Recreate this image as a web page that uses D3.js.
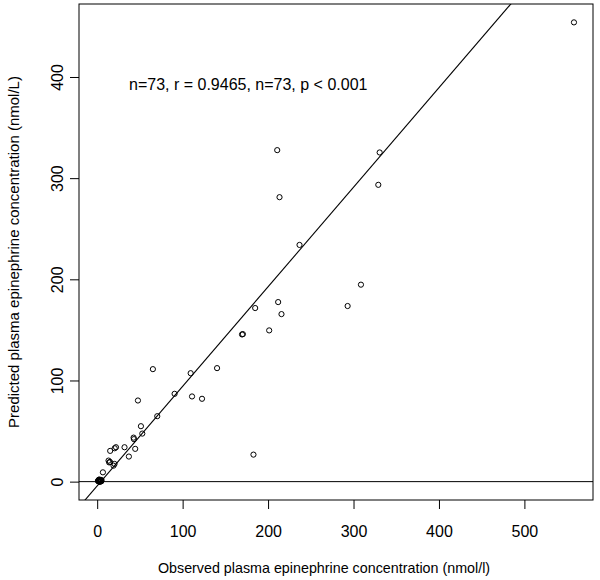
<!DOCTYPE html>
<html>
<head>
<meta charset="utf-8">
<script src="https://cdn.jsdelivr.net/npm/d3@7"></script>
<style>
  body { margin: 0; background: #fff; }
  svg { display: block; }
  text { font-family: "Liberation Sans", Arial, Helvetica, sans-serif; fill: #000; }
</style>
</head>
<body>
<svg id="chart" width="600" height="580"></svg>
<script>
// observed vs predicted plasma epinephrine (nmol/l)
const observed = [558, 330.6, 329, 210.7, 213.4, 236.8, 308.7, 293.1, 184.9, 211.8,
  215.7, 201.3, 169.5, 170.5, 65.2, 109.4, 140.3, 47.7, 90.6, 111,
  122.7, 70.3, 51.2, 52.8, 42.6, 43, 182.9, 44.5, 37.1, 32,
  20.5, 22, 15.2, 13.3, 15, 14, 20.3, 19.1, 6.7,
  1.4, 3.6, 1.8, 4.6, 2.9, 3.1, 2.5, 4.1, 1.2, 4.0,
  2.7, 3.3, 2.2, 4.8, 2.0, 5.1, 3.0, 2.4, 3.9, 1.9,
  3.5, 2.8, 4.4, 2.3, 3.2, 1.0, 3.7, 2.6, 4.3, 3.0,
  2.0, 3.4, 2.9, 3.8];
const predicted = [454, 325.4, 293.4, 327.7, 281.2, 234, 194.7, 173.6, 171.6, 177.5,
  165.6, 149.5, 145.5, 145.8, 111.2, 107.2, 112.2, 80.2, 86.8, 84.2,
  81.9, 64.7, 54.8, 47.5, 43.5, 42, 26.7, 32.4, 24.8, 34,
  33, 34, 30.4, 20.8, 19.5, 19, 17.5, 15.8, 9.2,
  0.4, 0.9, 1.8, 0.3, 0.7, 1.5, 0.0, 1.1, 0.6, 0.8,
  2.1, 0.5, 1.0, 0.4, 0.9, 1.6, 1.4, 0.3, 0.7, 1.1,
  0.2, 0.8, 1.2, 0.5, 1.0, 0.9, 0.3, 1.3, 0.7, 0.4,
  0.6, 1.1, 0.2, 0.8];
const xTicks = [0, 100, 200, 300, 400, 500];
const yTicks = [0, 100, 200, 300, 400];
const fitSlope = 0.984;
const fitIntercept = -4.2;
const note = "n=73, r = 0.9465, n=73, p < 0.001";
const xTitle = "Observed plasma epinephrine concentration (nmol/l)";
const yTitle = "Predicted plasma epinephrine concentration (nmol/L)";

const svg = d3.select('#chart');
const boxL = 79, boxR = 593, boxT = 4, boxB = 500;

// R style: data range stretched by 4%
function padded(v) {
  const [a, b] = d3.extent(v);
  const p = (b - a) * 0.04;
  return [a - p, b + p];
}
const x = d3.scaleLinear().domain(padded(observed)).range([boxL, boxR]);
const y = d3.scaleLinear().domain(padded(predicted)).range([boxB, boxT]);

svg.append('defs').append('clipPath').attr('id', 'box')
  .append('rect').attr('x', boxL).attr('y', boxT)
  .attr('width', boxR - boxL).attr('height', boxB - boxT);

const plot = svg.append('g').attr('clip-path', 'url(#box)');

// horizontal zero line
plot.append('line')
  .attr('x1', boxL).attr('x2', boxR)
  .attr('y1', y(0)).attr('y2', y(0))
  .attr('stroke', '#000').attr('stroke-width', 1);

// fitted line
const [x0, x1] = x.domain();
plot.append('line')
  .attr('x1', x(x0)).attr('y1', y(fitIntercept + fitSlope * x0))
  .attr('x2', x(x1)).attr('y2', y(fitIntercept + fitSlope * x1))
  .attr('stroke', '#000').attr('stroke-width', 1.1);

plot.selectAll('circle')
  .data(observed.map((d, i) => [d, predicted[i]]))
  .enter().append('circle')
  .attr('cx', d => x(d[0]))
  .attr('cy', d => y(d[1]))
  .attr('r', 2.6)
  .attr('fill', 'none')
  .attr('stroke', '#000')
  .attr('stroke-width', 1);

svg.append('rect')
  .attr('x', boxL).attr('y', boxT)
  .attr('width', boxR - boxL).attr('height', boxB - boxT)
  .attr('fill', 'none').attr('stroke', '#000').attr('stroke-width', 1);

const xAxis = svg.append('g')
  .attr('transform', `translate(0,${boxB})`)
  .call(d3.axisBottom(x).tickValues(xTicks).tickSize(9).tickPadding(17));
xAxis.select('.domain').remove();
xAxis.selectAll('line').attr('stroke', '#000');
xAxis.selectAll('text').attr('font-size', 16).attr('font-family', null);

const yAxis = svg.append('g')
  .attr('transform', `translate(${boxL},0)`)
  .call(d3.axisLeft(y).tickValues(yTicks).tickSize(9));
yAxis.select('.domain').remove();
yAxis.selectAll('line').attr('stroke', '#000');
yAxis.selectAll('text')
  .attr('font-size', 16).attr('font-family', null)
  .attr('x', 0).attr('y', -16).attr('dy', 0)
  .attr('text-anchor', 'middle')
  .attr('transform', 'rotate(-90)');

svg.append('text')
  .attr('x', 129).attr('y', 90)
  .attr('font-size', 16)
  .text(note);

svg.append('text')
  .attr('x', 324).attr('y', 573)
  .attr('text-anchor', 'middle')
  .attr('font-size', 14.3)
  .text(xTitle);

svg.append('text')
  .attr('transform', `translate(19,${(boxT + boxB) / 2}) rotate(-90)`)
  .attr('text-anchor', 'middle')
  .attr('font-size', 15)
  .text(yTitle);
</script>
</body>
</html>
